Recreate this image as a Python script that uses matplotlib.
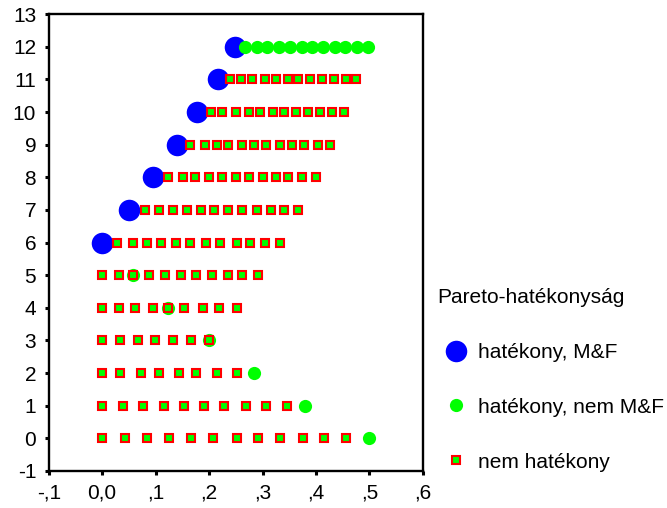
import matplotlib.pyplot as plt
from matplotlib.lines import Line2D

plt.rcParams['font.family'] = ['Liberation Sans', 'DejaVu Sans']
plt.rcParams['axes.unicode_minus'] = False

# hatékony, M&F (blue circles)
mf_x = [0.0, 0.051, 0.096, 0.14, 0.178, 0.216, 0.249]
mf_y = [6, 7, 8, 9, 10, 11, 12]

# hatékony, nem M&F (green circles)
nem_mf_x = [0.499, 0.38, 0.284, 0.199, 0.123, 0.057,
            0.268, 0.29, 0.309, 0.331, 0.351, 0.373, 0.393, 0.414, 0.435, 0.455, 0.476, 0.497]
nem_mf_y = [0, 1, 2, 3, 4, 5,
            12, 12, 12, 12, 12, 12, 12, 12, 12, 12, 12, 12]

# nem hatékony (red/green squares), one list per row
sq_rows = [0, 1, 2, 3, 4, 5, 6, 7, 8, 9, 10, 11]
sq_x = [
    [0.0, 0.042, 0.083, 0.125, 0.166, 0.207, 0.252, 0.292, 0.333, 0.375, 0.415, 0.457],
    [0.0, 0.039, 0.076, 0.116, 0.154, 0.191, 0.228, 0.27, 0.307, 0.345],
    [0.0, 0.034, 0.072, 0.106, 0.143, 0.176, 0.214, 0.252],
    [0.0, 0.034, 0.068, 0.098, 0.132, 0.166, 0.199],
    [0.0, 0.031, 0.061, 0.095, 0.123, 0.154, 0.188, 0.218, 0.252],
    [0.0, 0.031, 0.057, 0.087, 0.117, 0.147, 0.176, 0.206, 0.236, 0.262, 0.292],
    [0.027, 0.058, 0.083, 0.11, 0.139, 0.165, 0.195, 0.221, 0.252, 0.277, 0.304, 0.333],
    [0.08, 0.106, 0.132, 0.158, 0.184, 0.21, 0.236, 0.262, 0.289, 0.315, 0.341, 0.367],
    [0.124, 0.151, 0.173, 0.199, 0.225, 0.251, 0.274, 0.3, 0.326, 0.348, 0.374, 0.4],
    [0.165, 0.192, 0.214, 0.236, 0.262, 0.285, 0.307, 0.333, 0.356, 0.378, 0.404, 0.427],
    [0.203, 0.225, 0.251, 0.274, 0.296, 0.319, 0.341, 0.363, 0.385, 0.408, 0.43, 0.453],
    [0.24, 0.259, 0.281, 0.304, 0.326, 0.348, 0.367, 0.389, 0.411, 0.434, 0.456, 0.475],
]

xticks = [-0.1, 0.0, 0.1, 0.2, 0.3, 0.4, 0.5, 0.6]
xtick_labels = ['-,1', '0,0', ',1', ',2', ',3', ',4', ',5', ',6']
yticks = list(range(-1, 14))

fig = plt.figure(figsize=(6.67, 5.08), dpi=100)
ax = fig.add_axes([0.073, 0.073, 0.561, 0.899])

blue_style = dict(linestyle='none', marker='o', markersize=15.5, color='#0000ff', markeredgewidth=0)
green_style = dict(linestyle='none', marker='o', markersize=9.5, color='#00ff00', markeredgewidth=0)
sq_style = dict(linestyle='none', marker='s', markersize=5.2, markerfacecolor='#00ff00',
                markeredgecolor='#ff0000', markeredgewidth=1.5)

ax.plot(mf_x, mf_y, **blue_style)
ax.plot(nem_mf_x, nem_mf_y, **green_style)
for y, xs in zip(sq_rows, sq_x):
    ax.plot(xs, [y] * len(xs), **sq_style)

ax.set_xlim(-0.1, 0.6)
ax.set_ylim(-1, 13)
ax.set_xticks(xticks)
ax.set_xticklabels(xtick_labels)
ax.set_yticks(yticks)
ax.tick_params(direction='out', length=3, width=2.2, labelsize=15, pad=6)
for sp in ax.spines.values():
    sp.set_linewidth(1.7)

handles = [Line2D([], [], **blue_style), Line2D([], [], **green_style), Line2D([], [], **sq_style)]
labels = ['hatékony, M&F', 'hatékony, nem M&F', 'nem hatékony']
leg = fig.legend(handles, labels, title='Pareto-hatékonyság', loc='upper left',
                 bbox_to_anchor=(437 / 667, 1 - 288 / 508), frameon=False,
                 fontsize=15, title_fontsize=15, alignment='left',
                 handlelength=1.8, handletextpad=0.15, labelspacing=1.72,
                 borderpad=0, borderaxespad=0)

fig.savefig('out.png', dpi=100)
